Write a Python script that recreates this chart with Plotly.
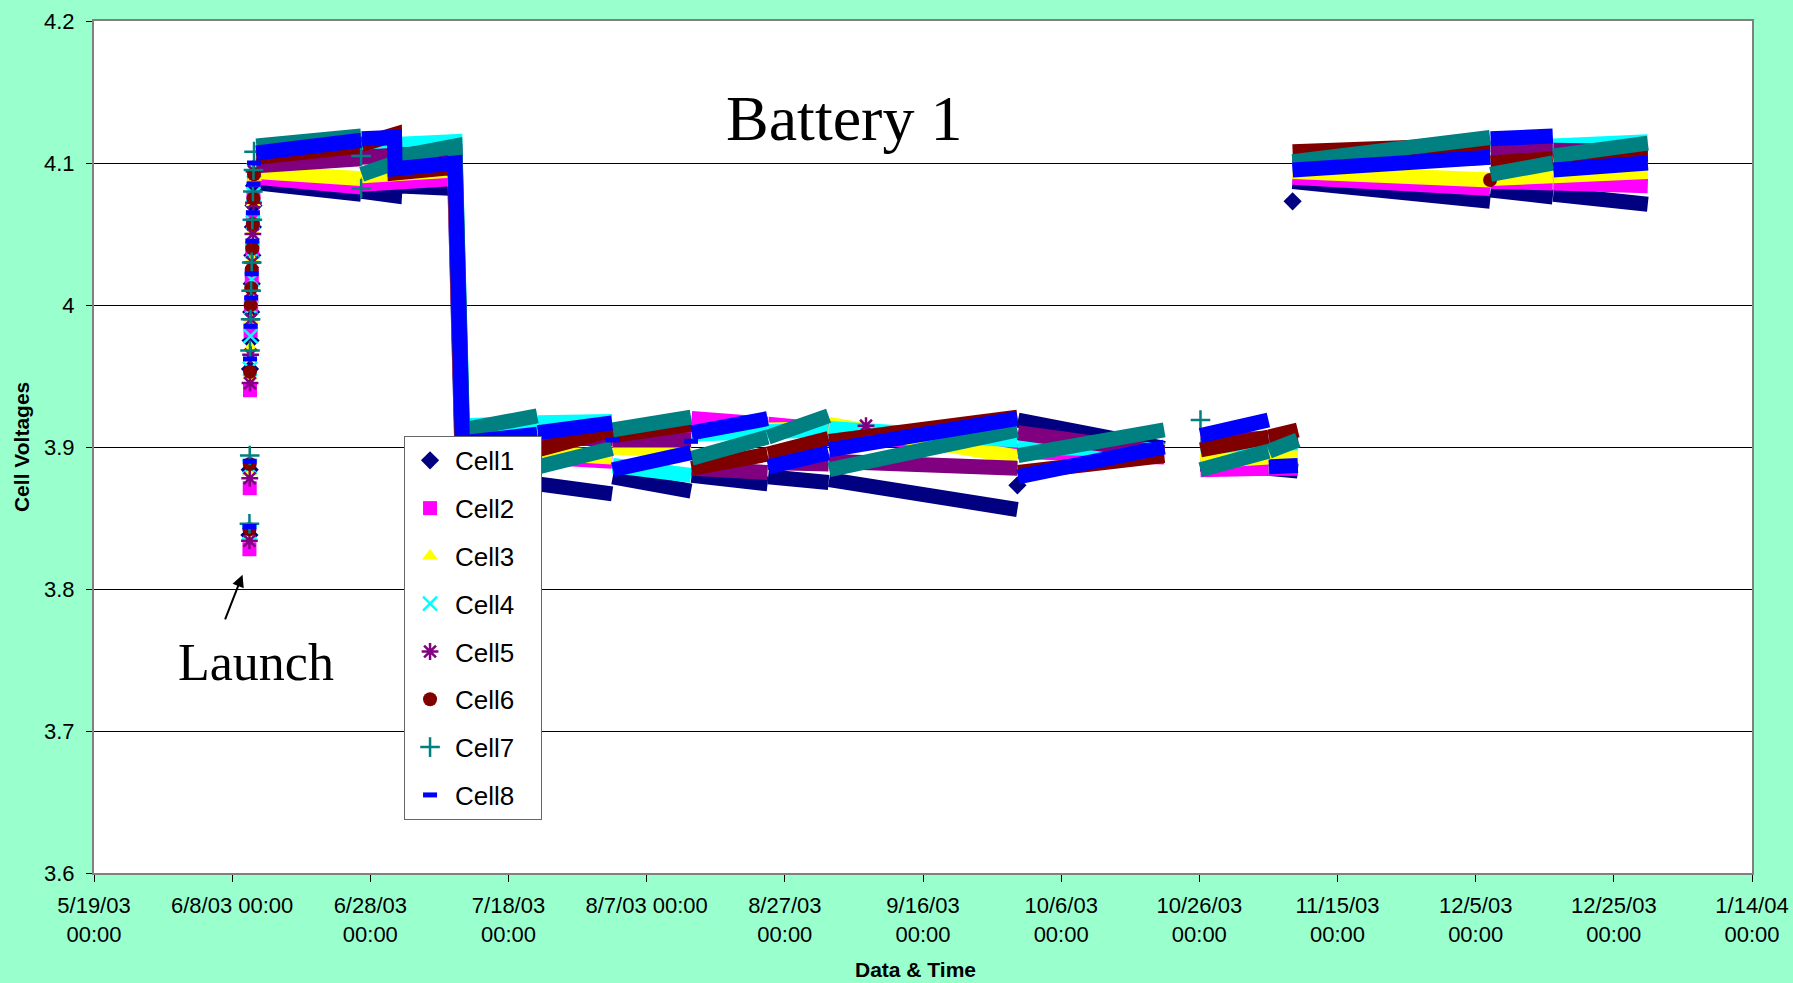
"""Battery 1 cell voltages, launch through end of December 2003."""
import plotly.graph_objects as go

# shared vertex times for the voltage bands (None = gap in the record)
times = [
    "2003-06-11 12:00", "2003-06-26 16:00", "2003-06-26 18:00",
    "2003-07-01 12:00", "2003-07-01 14:00", "2003-07-10 06:00", "2003-07-11 08:00",
    "2003-07-22 04:00", "2003-07-22 06:00", "2003-08-02 00:00", "2003-08-02 02:00",
    "2003-08-13 10:00", "2003-08-13 12:00", "2003-08-24 12:00", "2003-08-24 14:00",
    "2003-09-02 08:00", "2003-09-02 10:00", "2003-09-29 16:00", "2003-09-29 18:00",
    "2003-10-20 22:00", None,
    "2003-10-26 04:00", "2003-11-05 00:00", "2003-11-05 02:00", "2003-11-09 06:00", None,
    "2003-11-08 12:00", "2003-12-07 02:00", "2003-12-07 04:00", "2003-12-16 04:00",
    "2003-12-16 06:00", "2003-12-29 22:00",
]
# indices in `times` after which the record jumps (no stroke between readings)
jumps = [1, 7, 9, 11, 13, 15, 17, 22, 27, 29]

cell1 = [4.086, 4.078, 4.080, 4.077, 4.084, 4.082, 3.882, 3.874, 3.874, 3.867,
         3.879, 3.869, 3.880, 3.874, 3.879, 3.875, 3.877, 3.856, 3.919, 3.899, None,
         3.888, 3.885, 3.885, 3.883, None, 4.087, 4.073, 4.081, 4.076, 4.078, 4.071]
cell2 = [4.090, 4.083, 4.085, 4.086, 4.088, 4.089, 3.896, 3.893, 3.893, 3.890,
         3.900, 3.910, 3.920, 3.916, 3.916, 3.912, 3.910, 3.897, 3.897, 3.893, None,
         3.884, 3.885, 3.885, 3.885, None, 4.090, 4.082, 4.087, 4.086, 4.086, 4.084]
cell3 = [4.094, 4.089, 4.091, 4.092, 4.093, 4.095, 3.898, 3.896, 3.896, 3.893,
         3.900, 3.897, 3.910, 3.912, 3.912, 3.913, 3.916, 3.893, 3.905, 3.897, None,
         3.890, 3.893, 3.893, 3.895, None, 4.094, 4.088, 4.089, 4.091, 4.091, 4.094]
cell4 = [4.100, 4.104, 4.108, 4.110, 4.113, 4.115, 3.915, 3.917, 3.917, 3.918,
         3.887, 3.880, 3.909, 3.911, 3.911, 3.912, 3.913, 3.905, 3.900, 3.898, None,
         3.901, 3.902, 3.902, 3.903, None, 4.097, 4.105, 4.110, 4.112, 4.112, 4.115]
cell5 = [4.098, 4.103, 4.104, 4.105, 4.106, 4.108, 3.905, 3.906, 3.906, 3.906,
         3.905, 3.905, 3.885, 3.882, 3.889, 3.888, 3.890, 3.885, 3.910, 3.896, None,
         3.905, 3.906, 3.906, 3.908, None, 4.098, 4.104, 4.110, 4.110, 4.109, 4.108]
cell6 = [4.104, 4.112, 4.113, 4.120, 4.093, 4.097, 3.893, 3.898, 3.898, 3.912,
         3.908, 3.916, 3.885, 3.895, 3.895, 3.906, 3.904, 3.921, 3.882, 3.894, None,
         3.898, 3.907, 3.907, 3.912, None, 4.108, 4.113, 4.100, 4.103, 4.103, 4.106]
cell7 = [4.112, 4.119, 4.092, 4.100, 4.104, 4.112, 3.912, 3.922, 3.886, 3.899,
         3.912, 3.921, 3.892, 3.907, 3.907, 3.922, 3.884, 3.912, 3.894, 3.912, None,
         3.884, 3.897, 3.897, 3.905, None, 4.101, 4.118, 4.092, 4.100, 4.105, 4.114]
cell8 = [4.107, 4.116, 4.117, 4.118, 4.096, 4.100, 3.903, 3.909, 3.910, 3.917,
         3.884, 3.896, 3.910, 3.920, 3.886, 3.896, 3.898, 3.920, 3.879, 3.900, None,
         3.908, 3.919, 3.886, 3.887, None, 4.095, 4.104, 4.117, 4.119, 4.095, 4.100]

# launch-day readings climbing the column, shared times
column_t = ["2003-06-10 12:00", "2003-06-10 13:00", "2003-06-10 14:00", "2003-06-10 16:00",
            "2003-06-10 18:00", "2003-06-10 20:00", "2003-06-10 22:00", "2003-06-11 00:00",
            "2003-06-11 02:00", "2003-06-11 04:00"]
col1 = [3.838, 3.884, 3.955, 3.975, 3.995, 4.015, 4.035, 4.055, 4.070, 4.084]
col2 = [3.828, 3.871, 3.940, 3.982, 4.000, 4.020, 4.040, 4.060, 4.075, 4.088]
col3 = [3.836, 3.882, 3.950, 3.970, 3.990, 4.012, 4.032, 4.052, 4.072, 4.090]
col4 = [3.840, 3.886, 3.955, 3.978, 3.998, 4.018, 4.038, 4.058, 4.078, 4.095]
col5 = [3.834, 3.878, 3.945, 3.965, 3.990, 4.010, 4.030, 4.050, 4.072, 4.094]
col6 = [3.842, 3.888, 3.953, 4.000, 4.012, 4.025, 4.040, 4.057, 4.075, 4.092]
col7 = [3.846, 3.894, 3.968, 3.990, 4.010, 4.030, 4.060, 4.080, 4.095, 4.108]
col8 = [3.844, 3.890, 3.962, 3.985, 4.005, 4.022, 4.045, 4.065, 4.085, 4.100]

# stray readings off the bands
stray1_t, stray1_v = ["2003-11-08 12:00", "2003-09-29 16:00"], [4.073, 3.873]
stray5_t, stray5_v = ["2003-09-07 18:00"], [3.915]
stray6_t, stray6_v = ["2003-12-07 02:00", "2003-07-01 12:00"], [4.088, 4.120]
stray7_t, stray7_v = ["2003-06-26 16:00", "2003-06-26 16:00", "2003-10-26 04:00"], [4.105, 4.082, 3.919]
stray8_t, stray8_v = ["2003-08-02 02:00", "2003-08-13 10:00"], [3.905, 3.904]

names = ["Cell1", "Cell2", "Cell3", "Cell4", "Cell5", "Cell6", "Cell7", "Cell8"]
colors = ["#000080", "#FF00FF", "#FFFF00", "#00FFFF", "#800080", "#800000", "#008080", "#0000FF"]
symbols = ["diamond", "square", "triangle-up", "x-thin", "asterisk", "circle", "cross-thin", "line-ew"]

bands = [cell1, cell2, cell3, cell4, cell5, cell6, cell7, cell8]
columns = [col1, col2, col3, col4, col5, col6, col7, col8]
strays = [(stray1_t, stray1_v), ([], []), ([], []), ([], []),
          (stray5_t, stray5_v), (stray6_t, stray6_v), (stray7_t, stray7_v), (stray8_t, stray8_v)]

tick_dates = ["2003-05-19", "2003-06-08", "2003-06-28", "2003-07-18", "2003-08-07",
              "2003-08-27", "2003-09-16", "2003-10-06", "2003-10-26", "2003-11-15",
              "2003-12-05", "2003-12-25", "2004-01-14"]
tick_labels = ["5/19/03<br>00:00", "6/8/03 00:00", "6/28/03<br>00:00", "7/18/03<br>00:00",
               "8/7/03 00:00", "8/27/03<br>00:00", "9/16/03<br>00:00", "10/6/03<br>00:00",
               "10/26/03<br>00:00", "11/15/03<br>00:00", "12/5/03<br>00:00",
               "12/25/03<br>00:00", "1/14/04<br>00:00"]
volt_ticks = [3.6, 3.7, 3.8, 3.9, 4.0, 4.1, 4.2]
volt_labels = ["3.6", "3.7", "3.8", "3.9", "4", "4.1", "4.2"]

SERIF = "Liberation Serif, Times New Roman, serif"

fig = go.Figure()
for name, color, symbol, band, col, (st_t, st_v) in zip(names, colors, symbols, bands, columns, strays):
    xs, ys = [], []
    for i, (t, v) in enumerate(zip(times, band)):
        xs.append(t)
        ys.append(v)
        if i in jumps:
            xs.append(None)
            ys.append(None)
    fig.add_trace(go.Scatter(
        x=xs, y=ys, mode="lines", name=name, legendgroup=name, showlegend=False,
        line=dict(color=color, width=15), connectgaps=False, hoverinfo="skip",
    ))
    marker = dict(symbol=symbol, color=color, size=14)
    if symbol in ("x-thin", "asterisk", "cross-thin"):
        marker["line"] = dict(color=color, width=2.5)
    elif symbol == "line-ew":
        marker.update(size=10, line=dict(color=color, width=5))
    fig.add_trace(go.Scatter(
        x=column_t + st_t, y=col + st_v, mode="markers", name=name + "\u00a0\u00a0\u00a0",
        legendgroup=name, marker=marker,
    ))

fig.update_layout(
    width=1793, height=983,
    paper_bgcolor="#99FFCC", plot_bgcolor="white",
    margin=dict(l=94, r=41, t=21, b=110, autoexpand=False),
    font=dict(family="Liberation Sans, Arial, sans-serif", color="black", size=22),
    showlegend=True,
    legend=dict(
        x=0.187, y=0.513, xanchor="left", yanchor="top",
        bgcolor="white", bordercolor="#666666", borderwidth=1,
        font=dict(size=26), tracegroupgap=11, traceorder="grouped", itemwidth=40,
    ),
    xaxis=dict(
        type="date", range=["2003-05-19", "2004-01-14"], automargin=False,
        tickvals=tick_dates, ticktext=tick_labels, tickangle=0,
        showgrid=False, zeroline=False,
        showline=True, linecolor="#808080", linewidth=2, mirror=True,
        ticks="outside", ticklen=7, tickcolor="black", ticklabelstandoff=5,
    ),
    yaxis=dict(
        range=[3.6, 4.2], tickvals=volt_ticks, ticktext=volt_labels, automargin=False,
        showgrid=True, gridcolor="black", gridwidth=1, zeroline=False,
        showline=True, linecolor="#808080", linewidth=2, mirror=True,
        ticks="outside", ticklen=6, tickcolor="black", ticklabelstandoff=7,
    ),
    annotations=[
        dict(text="Battery 1", xref="paper", yref="paper", x=0.4523, y=0.885,
             xanchor="center", yanchor="middle", showarrow=False,
             font=dict(family=SERIF, size=64)),
        dict(text="Launch", xref="x", yref="y", x="2003-06-11 10:00", y=3.748,
             xanchor="center", yanchor="middle", showarrow=False,
             font=dict(family=SERIF, size=52)),
        dict(text="", xref="x", yref="y", x="2003-06-09 12:00", y=3.81,
             showarrow=True, arrowhead=2, arrowsize=1.2, arrowwidth=2, arrowcolor="black",
             ax=-18, ay=46),
        dict(text="<b>Cell Voltages</b>", xref="paper", yref="paper", x=-0.044, y=0.5,
             xanchor="center", yanchor="middle", textangle=-90, showarrow=False,
             font=dict(size=21)),
        dict(text="<b>Data & Time</b>", xref="paper", yref="paper", x=0.4952, y=-0.1138,
             xanchor="center", yanchor="middle", showarrow=False, font=dict(size=21)),
    ],
)

fig.write_html("out.html", config={"displayModeBar": False},
               post_script="document.body.style.margin='0px';")
